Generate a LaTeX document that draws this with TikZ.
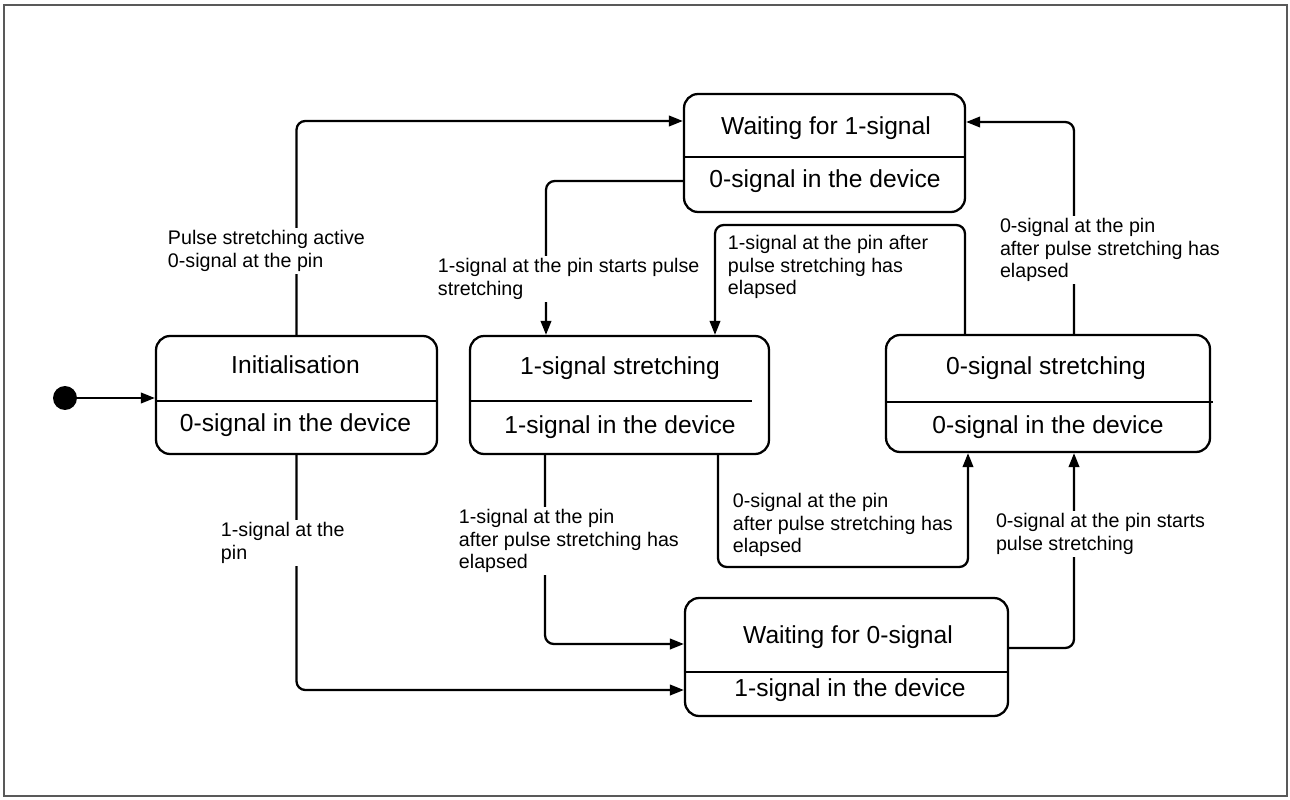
\documentclass[tikz,border=0pt]{standalone}
\usepackage{fontspec}
\setmainfont{Liberation Sans}
\usepackage{tikz}
\usetikzlibrary{arrows.meta,positioning,calc}

\begin{document}
\begin{tikzpicture}[x=0.02cm,y=-0.02cm,
    statebox/.style={draw,line width=1.3pt,rounded corners=8pt,minimum height=2.36cm},
    divider/.style={line width=1.3pt},
    statetext/.style={font=\fontsize{14}{16}\selectfont,text height=10pt,text depth=3pt,inner sep=0pt},
    conn/.style={line width=1.3pt,rounded corners=5pt,-{Triangle[length=8pt,width=6pt]}},
    lbl/.style={font=\fontsize{11.2}{12.8}\selectfont,align=left,anchor=west,fill=white,inner sep=1.5pt}]

  \useasboundingbox (0,0) rectangle (1290,800);
  \draw[gray!70!black,line width=0.6pt] (4,5) rectangle (1287,796);

  % states
  \node[statebox,minimum width=5.62cm] (init) at (296.5,395) {};
  \node[statebox,minimum width=5.98cm] (stretch1) at (619.5,395) {};
  \node[statebox,minimum width=6.48cm,minimum height=2.34cm] (stretch0) at (1048,393.5) {};
  \node[statebox,minimum width=5.62cm] (wait1) at (824.5,153) {};
  \node[statebox,minimum width=6.46cm] (wait0) at (846.5,657) {};

  \draw[divider] (init.west |- 0,401) -- (init.east |- 0,401);
  \draw[divider] (stretch1.west |- 0,401) -- (752,401);
  \draw[divider] (stretch0.west |- 0,402) -- (1213,402);
  \draw[divider] (wait1.west |- 0,157) -- (wait1.east |- 0,157);
  \draw[divider] (wait0.west |- 0,672) -- (wait0.east |- 0,672);

  \node[statetext] (initT) at (295.5,367) {Initialisation};
  \node[statetext] (initB) at (295.5,425) {0-signal in the device};
  \node[statetext] (stretch1T) at (620,368) {1-signal stretching};
  \node[statetext] (stretch1B) at (620,427) {1-signal in the device};
  \node[statetext] (stretch0T) at (1046,368) {0-signal stretching};
  \node[statetext] (stretch0B) at (1048,427) {0-signal in the device};
  \node[statetext] (wait1T) at (826,128) {Waiting for 1-signal};
  \node[statetext] (wait1B) at (825,181) {0-signal in the device};
  \node[statetext] (wait0T) at (848,637) {Waiting for 0-signal};
  \node[statetext] (wait0B) at (850,690) {1-signal in the device};

  % initial state
  \node[circle,fill,inner sep=0pt,minimum size=0.48cm] (start) at (65,398) {};
  \draw[conn] (start) -- (init.west |- start);

  % transitions
  \draw[conn] (init.north) |- (wait1.west |- 0,121);
  \draw[conn] (wait1.west |- 0,181) -| (stretch1.north -| 546,0);
  \draw[conn] (stretch0.north -| 965,0) -- (965,225) -- (715,225) -- (stretch1.north -| 715,0);
  \draw[conn] (stretch0.north -| 1074,0) |- (wait1.east |- 0,122);
  \draw[conn] (stretch1.south -| 545,0) |- (wait0.west |- 0,644);
  \draw[conn] (stretch1.south -| 718,0) -- (718,567) -- (968,567) -- (stretch0.south -| 968,0);
  \draw[conn] (wait0.east |- 0,648) -| (stretch0.south -| 1074,0);
  \draw[conn] (init.south) |- (wait0.west |- 0,690);

  % labels
  \node[lbl] (lblInitW1) at (165,251) {Pulse stretching active\\0-signal at the pin};
  \node[lbl] (lblW1S1) at (435,279) {1-signal at the pin starts pulse\\stretching};
  \node[lbl] (lblS0S1) at (725,267) {1-signal at the pin after\\pulse stretching has\\elapsed};
  \node[lbl] (lblS0W1) at (997,250) {0-signal at the pin\\after pulse stretching has\\elapsed};
  \node[lbl] (lblS1W0) at (456,541) {1-signal at the pin\\after pulse stretching has\\elapsed};
  \node[lbl] (lblS1S0) at (730,525) {0-signal at the pin\\after pulse stretching has\\elapsed};
  \node[lbl] (lblW0S0) at (993,534) {0-signal at the pin starts\\pulse stretching};
  \node[lbl] (lblInitW0) at (218,543) {1-signal at the\\pin};

\end{tikzpicture}
\end{document}
